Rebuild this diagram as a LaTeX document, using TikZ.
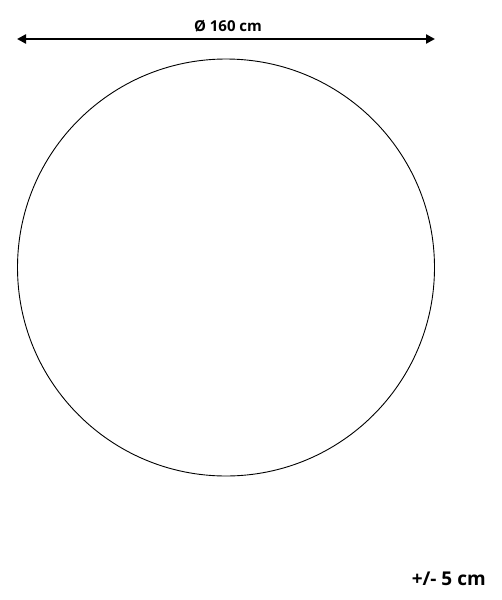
\documentclass[tikz,border=0pt]{standalone}
\usepackage{fontspec}
\setmainfont{Open Sans}
\usetikzlibrary{arrows.meta}
\usetikzlibrary{positioning}
\begin{document}
\begin{tikzpicture}[x=1pt,y=-1pt,>={Triangle[length=9pt,width=9pt]},
		semithick]
		\tikzstyle{label}=[font=\bfseries,inner sep=0pt]
		\useasboundingbox (0,0) rectangle (501,600);
		
		\node[draw,circle,minimum size=417pt,inner sep=0pt,line width=0.9pt] (rug) at (226,267.5) {};
		\coordinate (left)  at (17,39);
		\coordinate (right) at (435,39);
		\node[label,font=\fontsize{15}{17}\bfseries,anchor=base] (diam) at (228,31) {Ø 160 cm};
		\node[label,font=\fontsize{19}{21}\bfseries,anchor=base east] (tol) at (486,585) {+/- 5 cm};
		
		\draw[<->,line width=2.6pt] (left) -- (right);
		
		\end{tikzpicture}
\end{document}
